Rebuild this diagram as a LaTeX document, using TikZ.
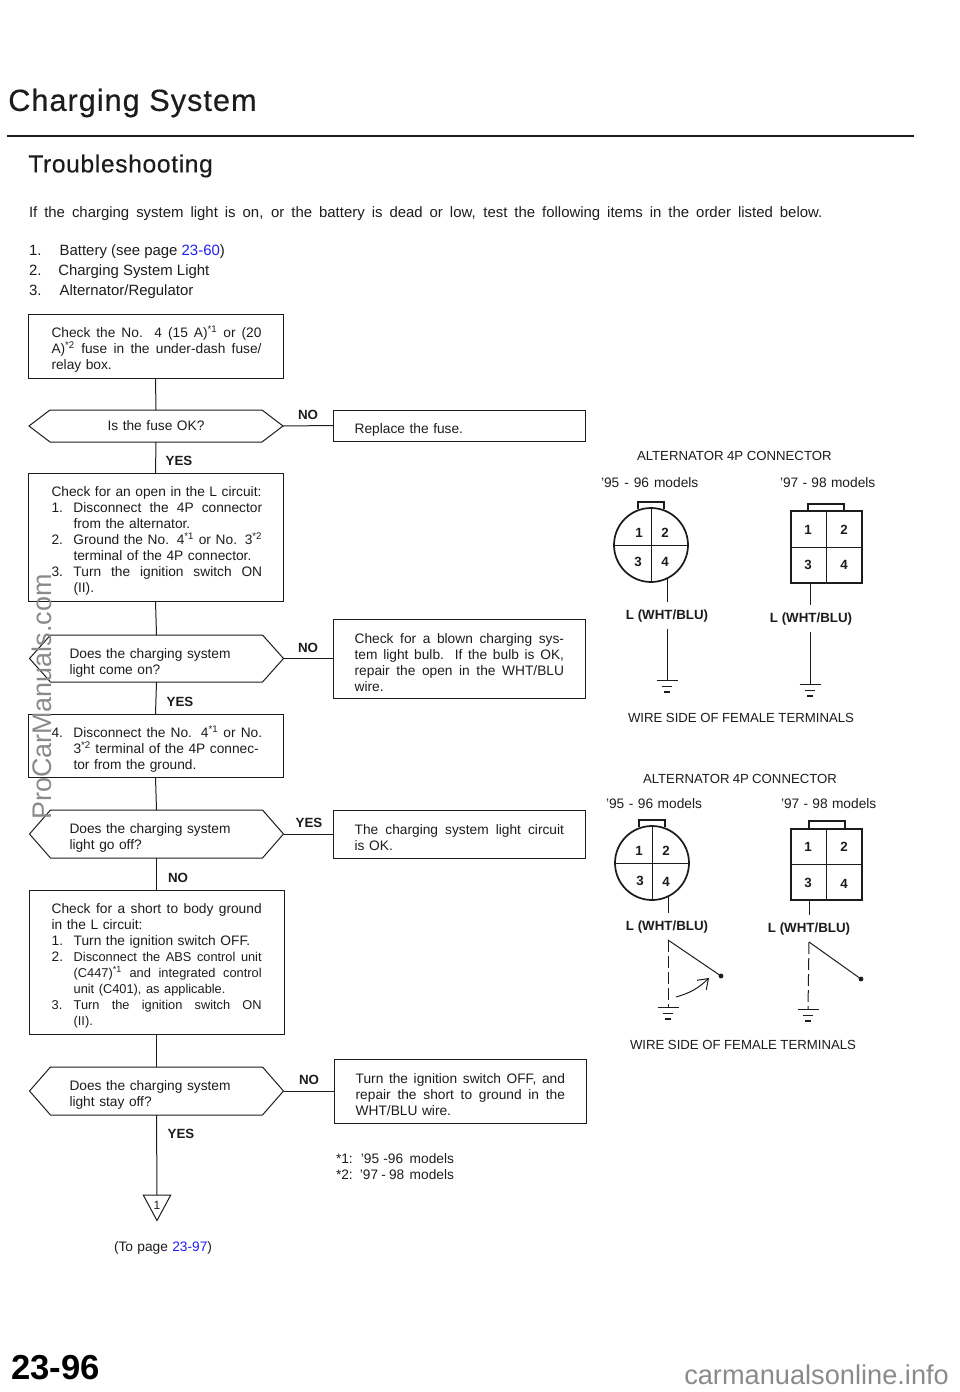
\documentclass[tikz,border=0pt]{standalone}
\usepackage{fontspec}
\setmainfont{Liberation Sans}
\newfontfamily\titlef[LetterSpace=3.3,FakeBold=0.4]{Liberation Sans}
\newfontfamily\subf[LetterSpace=2.5,FakeBold=0.3]{Liberation Sans}
\usetikzlibrary{arrows.meta,calc}
\definecolor{ink}{HTML}{1C1C1C}
\definecolor{link}{HTML}{2020F0}
\definecolor{wm}{HTML}{8A8A8A}
\newcommand{\jl}[2][158pt]{\makebox[#1][s]{\spaceskip=0pt\xspaceskip=0pt\relax #2}}
\newcommand{\numj}[3][141.5pt]{\makebox[16.5pt][l]{#2}\jl[#1]{#3}}
\newcommand{\ind}[1]{\hspace*{16.5pt}#1}
\newcommand{\supa}{\textsuperscript{*1}}
\newcommand{\supb}{\textsuperscript{*2}}
\newcommand{\fitw}[2]{\makebox[#1][s]{#2}}
\newcommand{\bt}{\rule{0pt}{13.5pt}}
\newcommand{\hexdraw}[1]{\draw[flow] (#1.west) -- ([xshift=15.75pt]#1.north west) -- ([xshift=-15.75pt]#1.north east) -- (#1.east) -- ([xshift=-15.75pt]#1.south east) -- ([xshift=15.75pt]#1.south west) -- cycle;}
\newcommand{\gnd}[3]{\coordinate (#1a) at (#2-10.5,#3); \coordinate (#1b) at (#2+10.5,#3);
 \coordinate (#1c) at (#2-5,#3+6); \coordinate (#1d) at (#2+5,#3+6);
 \coordinate (#1e) at (#2-3,#3+12); \coordinate (#1f) at (#2+3,#3+12);
 \draw[flow] (#1a) -- (#1b); \draw[flow] (#1c) -- (#1d); \draw[flow,line width=1.1pt] (#1e) -- (#1f);}
\tikzset{
 x=0.75pt,y=-0.75pt,
 flow/.style={draw=ink,line width=0.75pt},
 body/.style={text=ink,font=\fontsize{10.3}{12}\selectfont,inner sep=0pt,outer sep=0pt},
 leftbox/.style={body,flow,anchor=north west,align=left,text width=159pt,inner xsep=16.125pt,inner ysep=0pt},
 rightbox/.style={body,flow,anchor=north west,align=left,text width=157pt,inner xsep=16.25pt,inner ysep=0pt},
 decision/.style={body,align=left,text width=130.5pt,inner xsep=30pt,inner ysep=0pt},
 plain/.style={body,anchor=west,yshift=-1.4pt},
 hdr/.style={plain,font=\fontsize{9.9}{12}\selectfont},
 tag/.style={text=ink,font=\fontsize{10}{12}\selectfont\bfseries,inner sep=0pt,yshift=-0.8pt},
 pin/.style={text=ink,font=\fontsize{10}{12}\selectfont\bfseries,inner sep=0pt,yshift=-0.8pt},
 wirelabel/.style={text=ink,font=\fontsize{10}{12}\selectfont\bfseries,inner sep=5pt,yshift=-1.2pt},
 conn/.style={draw=ink,line width=1.3pt},
 tabl/.style={draw=ink,line width=1.1pt},
 thinl/.style={draw=ink,line width=0.75pt},
}
\begin{document}
\begin{tikzpicture}
\useasboundingbox (0,0) rectangle (960,1392);
% headings
\node[anchor=west,text=ink,inner sep=0pt,font=\titlef\fontsize{23}{28}\selectfont] (title) at (8,103) {Charging System};
\coordinate (ruleL) at (7,136); \coordinate (ruleR) at (914,136);
\draw[draw=ink,line width=1.6pt] (ruleL) -- (ruleR);
\node[anchor=west,text=ink,inner sep=0pt,font=\subf\fontsize{18.5}{24}\selectfont] (sub) at (28,166) {Troubleshooting};
\node[plain,font=\fontsize{11.2}{12}\selectfont] (intro) at (29,212) {\fitw{595pt}{If the charging system light is on, or the battery is dead or low, test the following items in the order listed below.}};
\node[plain,font=\fontsize{11.2}{12}\selectfont] (i1) at (29,250) {\makebox[23pt][l]{1.}Battery (see page \textcolor{link}{23-60})};
\node[plain,font=\fontsize{11.2}{12}\selectfont] (i2) at (29,270) {\makebox[22pt][l]{2.}Charging System Light};
\node[plain,font=\fontsize{11.2}{12}\selectfont] (i3) at (29,290) {\makebox[23pt][l]{3.}Alternator/Regulator};

% left column
\node[leftbox,minimum height=48pt] (b1) at (28,314) {\bt\hspace*{1.5pt}\jl[157.5pt]{Check the No. 4 (15 A)\supa{} or (20}\\\hspace*{1.5pt}\jl[157.5pt]{A)\supb{} fuse in the under-dash fuse/}\\\hspace*{1.5pt}relay box.};
\node[decision,align=center,minimum height=24pt] (d1) at (156,426) {Is the fuse OK?};
\hexdraw{d1}
\node[leftbox,minimum height=96pt] (b2) at (28,473) {\bt\hspace*{1.5pt}Check for an open in the L circuit:\\\hspace*{1.5pt}\numj{1.}{Disconnect the 4P connector}\\\hspace*{1.5pt}\ind{from the alternator.}\\\hspace*{1.5pt}\numj{2.}{Ground the No. 4\supa{} or No. 3\supb}\\\hspace*{1.5pt}\ind{terminal of the 4P connector.}\\\hspace*{1.5pt}\numj{3.}{Turn the ignition switch ON}\\\hspace*{1.5pt}\ind{(II).}};
\node[decision,minimum height=35.25pt] (d2) at (156.5,658.5) {\bt Does the charging system\\light come on?};
\hexdraw{d2}
\node[leftbox,minimum height=47.25pt] (b3) at (28,714) {\bt\hspace*{1.5pt}\numj{4.}{Disconnect the No. 4\supa{} or No.}\\\hspace*{1.5pt}\ind{3\supb{} terminal of the 4P connec-}\\\hspace*{1.5pt}\ind{tor from the ground.}};
\node[decision,minimum height=36pt] (d3) at (156.5,834) {\bt Does the charging system\\light go off?};
\hexdraw{d3}
\node[leftbox,minimum height=108pt,text width=157.25pt,inner xsep=17pt] (b4) at (29,890) {\bt\jl[157.5pt]{Check for a short to body ground}\\in the L circuit:\\\makebox[16.5pt][l]{1.}Turn the ignition switch OFF.\\\makebox[16.5pt][l]{2.}{\fontsize{9.6}{12}\selectfont\jl[141pt]{Disconnect the ABS control unit}}\\\ind{\fontsize{9.6}{12}\selectfont\jl[141pt]{(C447)\supa{} and integrated control}}\\\ind{\fontsize{9.6}{12}\selectfont unit (C401), as applicable.}\\\numj[141pt]{3.}{Turn the ignition switch ON}\\\ind{(II).}};
\node[decision,minimum height=36pt] (d4) at (156.5,1091) {\bt Does the charging system\\light stay off?};
\hexdraw{d4}
\node[text=ink,font=\fontsize{9}{10}\selectfont,inner sep=0pt,minimum width=20.25pt,minimum height=18.75pt,anchor=north] (t1) at (157,1195) {\raisebox{4pt}{1}};
\draw[flow] (t1.north west) -- (t1.north east) -- (t1.south) -- cycle;

% right column
\node[rightbox,minimum height=23.25pt] (r1) at (333,410) {\bt Replace the fuse.};
\node[rightbox,minimum height=59.25pt] (r2) at (333,619) {\bt\jl[157pt]{Check for a blown charging sys-}\\\jl[157pt]{tem light bulb. If the bulb is OK,}\\\jl[157pt]{repair the open in the WHT/BLU}\\wire.};
\node[rightbox,minimum height=36pt] (r3) at (333,810) {\bt\jl[157pt]{The charging system light circuit}\\is OK.};
\node[rightbox,minimum height=48pt] (r4) at (334,1059) {\bt\jl[157pt]{Turn the ignition switch OFF, and}\\\jl[157pt]{repair the short to ground in the}\\WHT/BLU wire.};

% flow connectors
\draw[flow] (b1.south) -- (d1.north);
\draw[flow] (d1.south) -- (b2.north);
\draw[flow] (b2.south) -- (d2.north);
\draw[flow] (d2.south) -- (b3.north);
\draw[flow] (b3.south) -- (d3.north);
\draw[flow] (d3.south) -- (b4.north);
\draw[flow] (b4.south) -- (d4.north);
\draw[flow] (d4.south) -- (t1.north);
\draw[flow] (d1.east) -- (r1.west);
\draw[flow] (d2.east) -- (r2.west);
\draw[flow] (d3.east) -- (r3.west);
\draw[flow] (d4.east) -- (r4.west);

% flow labels
\node[tag] (no1) at (308,414) {NO};
\node[tag] (yes1) at (179,460) {YES};
\node[tag] (no2) at (308,647) {NO};
\node[tag] (yes2) at (180,701) {YES};
\node[tag] (yes3) at (309,822) {YES};
\node[tag] (no3) at (178,877) {NO};
\node[tag] (no4) at (309,1079) {NO};
\node[tag] (yes4) at (181,1133) {YES};

% notes
\node[plain] (n1) at (336,1157) {\fitw{88.5pt}{*1: \,'95 -96 \,models}};
\node[plain] (n2) at (336,1173) {\fitw{88.5pt}{*2: \,'97 - 98 \,models}};
\node[plain] (topage) at (114,1246) {\fitw{73.5pt}{(To page \textcolor{link}{23-97})}};

% upper connectors
\node[hdr] (h1) at (637,454) {\fitw{146pt}{ALTERNATOR 4P CONNECTOR}};
\node[plain] (m1) at (601,481) {\fitw{73pt}{'95 - 96 models}};
\node[plain] (m2) at (780,481) {\fitw{71.5pt}{'97 - 98 models}};
\node[hdr] (w1) at (628,716) {\fitw{169.5pt}{WIRE SIDE OF FEMALE TERMINALS}};

\coordinate (tab1a) at (638,509); \coordinate (tab1b) at (638,502); \coordinate (tab1c) at (664,502); \coordinate (tab1d) at (664,509);
\draw[conn] (tab1a) -- (tab1b) -- (tab1c) -- (tab1d);
\node[circle,conn,fill=white,inner sep=0pt,minimum size=55.5pt] (c1) at (651,545) {};
\draw[thinl] (c1.north) -- (c1.south);
\draw[thinl] (c1.west) -- (c1.east);
\node[pin] (c1p1) at (639,532) {1}; \node[pin] (c1p2) at (665,532) {2};
\node[pin] (c1p3) at (638,561) {3}; \node[pin] (c1p4) at (665,561) {4};
\node[wirelabel] (l1) at (667,614) {L (WHT/BLU)};
\coordinate (g1) at (667,680);
\draw[flow] (c1.-64) -- (l1.north -| c1.-64);
\draw[flow] (l1.south) -- (g1);
\gnd{g1x}{667}{680}

\coordinate (tab2a) at (808,511); \coordinate (tab2b) at (808,504); \coordinate (tab2c) at (844,504); \coordinate (tab2d) at (844,511);
\draw[tabl] (tab2a) -- (tab2b) -- (tab2c) -- (tab2d);
\node[rectangle,conn,inner sep=0pt,minimum width=53.25pt,minimum height=54pt] (s1) at (826.5,547) {};
\draw[thinl] (s1.north) -- (s1.south);
\draw[thinl] (s1.west) -- (s1.east);
\node[pin] (s1p1) at (808,529) {1}; \node[pin] (s1p2) at (844,529) {2};
\node[pin] (s1p3) at (808,564) {3}; \node[pin] (s1p4) at (844,564) {4};
\node[wirelabel] (l2) at (811,617) {L (WHT/BLU)};
\coordinate (s1w) at (810,583);
\coordinate (g2) at (810,684);
\draw[flow] (s1w) -- (l2.north -| s1w);
\draw[flow] (l2.south -| g2) -- (g2);
\gnd{g2x}{810}{684}

% lower connectors
\node[hdr] (h2) at (643,777) {\fitw{145.5pt}{ALTERNATOR 4P CONNECTOR}};
\node[plain] (m3) at (606,802) {\fitw{72pt}{'95 - 96 models}};
\node[plain] (m4) at (781,802) {\fitw{71.5pt}{'97 - 98 models}};
\node[hdr] (w2) at (630,1043) {\fitw{169.5pt}{WIRE SIDE OF FEMALE TERMINALS}};

\coordinate (tab3a) at (639,827); \coordinate (tab3b) at (639,820); \coordinate (tab3c) at (665,820); \coordinate (tab3d) at (665,827);
\draw[conn] (tab3a) -- (tab3b) -- (tab3c) -- (tab3d);
\node[circle,conn,fill=white,inner sep=0pt,minimum size=55.5pt] (c2) at (652,863) {};
\draw[thinl] (c2.north) -- (c2.south);
\draw[thinl] (c2.west) -- (c2.east);
\node[pin] (c2p1) at (639,850) {1}; \node[pin] (c2p2) at (666,850) {2};
\node[pin] (c2p3) at (640,880) {3}; \node[pin] (c2p4) at (666,881) {4};
\node[wirelabel] (l3) at (667,925) {L (WHT/BLU)};
\coordinate (j3) at (668,940); \coordinate (g3) at (668,1007); \coordinate (d3t) at (721,976);
\draw[flow] (c2.-64) -- (l3.north -| c2.-64);
\draw[flow] (l3.south -| j3) -- (j3);
\draw[flow,dash pattern=on 9pt off 3pt] (j3) -- (g3);
\draw[flow] (j3) -- (d3t);
\fill[ink] (d3t) circle (1.8pt);
\gnd{g3x}{668}{1007}
\coordinate (a3s) at (676,997); \coordinate (a3e) at (709,978);
\draw[thinl,-{Straight Barb[length=7pt,width=10pt]}] (a3s) to[bend right=14] (a3e);

\coordinate (tab4a) at (809,829); \coordinate (tab4b) at (809,821); \coordinate (tab4c) at (845,821); \coordinate (tab4d) at (845,829);
\draw[tabl] (tab4a) -- (tab4b) -- (tab4c) -- (tab4d);
\node[rectangle,conn,inner sep=0pt,minimum width=53.25pt,minimum height=53.25pt] (s2) at (826.5,864.5) {};
\draw[thinl] (s2.north) -- (s2.south);
\draw[thinl] (s2.west) -- (s2.east);
\node[pin] (s2p1) at (808,846) {1}; \node[pin] (s2p2) at (844,846) {2};
\node[pin] (s2p3) at (808,882) {3}; \node[pin] (s2p4) at (844,883) {4};
\node[wirelabel] (l4) at (809,927) {L (WHT/BLU)};
\coordinate (s2w) at (809,900); \coordinate (j4) at (809,942); \coordinate (g4) at (808,1009); \coordinate (d4t) at (861,979);
\draw[flow] (s2w) -- (l4.north -| s2w);
\draw[flow] (l4.south -| j4) -- (j4);
\draw[flow,dash pattern=on 9pt off 3pt] (j4) -- (g4);
\draw[flow] (j4) -- (d4t);
\fill[ink] (d4t) circle (1.8pt);
\gnd{g4x}{808}{1009}

% page marks
\node[anchor=west,text=black,inner sep=0pt,font=\fontsize{26}{30}\selectfont\bfseries] (page) at (11,1368) {23-96};
\node[anchor=west,text=wm,inner sep=0pt,font=\fontsize{20.4}{24}\selectfont] (site) at (684,1375) {carmanualsonline.info};
\node[text=wm,rotate=90,inner sep=0pt,font=\fontsize{20.2}{24}\selectfont] (mark) at (42,697) {ProCarManuals.com};
\end{tikzpicture}
\end{document}
